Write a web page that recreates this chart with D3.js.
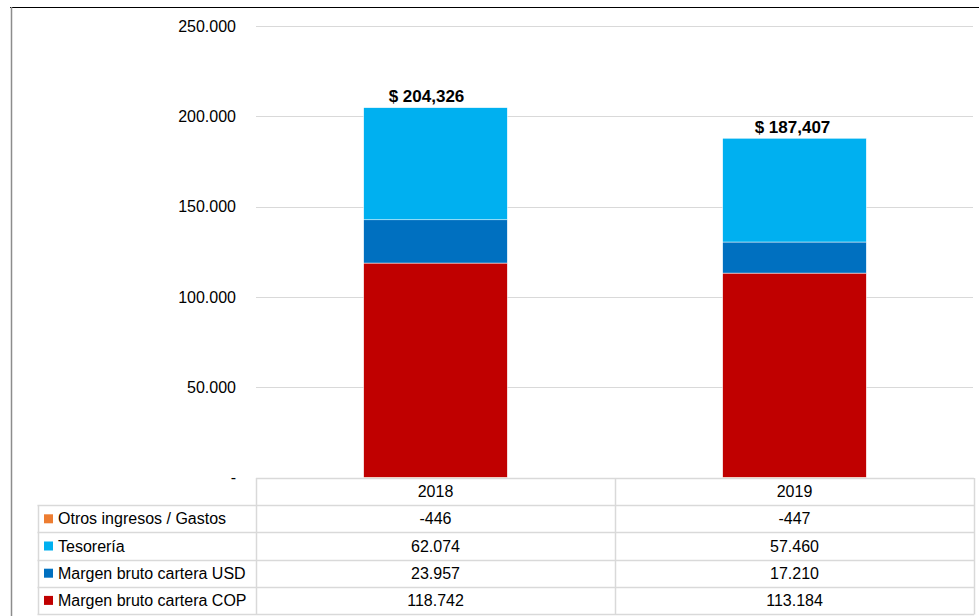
<!DOCTYPE html>
<html>
<head>
<meta charset="utf-8">
<script src="https://cdn.jsdelivr.net/npm/d3@7"></script>
<style>
  body { margin: 0; background: #fff; }
  svg { display: block; font-family: "Liberation Sans", Arial, sans-serif; }
</style>
</head>
<body>
<svg id="chart" width="979" height="616"></svg>
<script>
// data
var years = ["2018", "2019"];
var seriesNames = ["Margen bruto cartera COP", "Margen bruto cartera USD", "Tesorería", "Otros ingresos / Gastos"];
var seriesColors = ["#C00000", "#0070C0", "#00B0F0", "#ED7D31"];
var copValues = [118742, 113184];
var usdValues = [23957, 17210];
var tesoreriaValues = [62074, 57460];
var otrosValues = [-446, -447];
var totalLabels = [204326, 187407];
var yTicks = [0, 50000, 100000, 150000, 200000, 250000];

var seriesValues = [copValues, usdValues, tesoreriaValues, otrosValues];

var svg = d3.select("#chart");

var es = d3.formatLocale({decimal: ",", thousands: ".", grouping: [3], currency: ["$", ""], minus: "-"});
var fmtDot = es.format(",");
var fmtComma = d3.format(",");

// plot area
var plotLeft = 256, plotRight = 974, plotTop = 26, plotBottom = 477.5;
// total labels were nudged by hand in the original
var labelNudge = [-9, -2];

var x = d3.scaleBand()
	.domain(years)
	.range([plotLeft, plotRight])
	.padding(0);

var y = d3.scaleLinear()
	.domain([0, 250000])
	.range([plotBottom, plotTop]);

var barWidth = x.bandwidth() * 0.4;

// outer frame
svg.append("line")
	.attr("x1", 10).attr("x2", 979)
	.attr("y1", 7.5).attr("y2", 7.5)
	.attr("stroke", "#000").attr("stroke-width", 1.2);
svg.append("line")
	.attr("x1", 11.5).attr("x2", 11.5)
	.attr("y1", 7).attr("y2", 616)
	.attr("stroke", "#8c8c8c").attr("stroke-width", 1.5);

// gridlines
svg.append("g")
	.selectAll("line")
	.data(yTicks.filter(function(d) { return d > 0; }))
	.join("line")
		.attr("x1", plotLeft).attr("x2", 973)
		.attr("y1", function(d) { return Math.round(y(d)) + 0.5; })
		.attr("y2", function(d) { return Math.round(y(d)) + 0.5; })
		.attr("stroke", "#d9d9d9")
		.attr("stroke-width", 1);

// y axis labels
var yAxis = d3.axisLeft(y)
	.tickValues(yTicks)
	.tickSize(0)
	.tickPadding(0)
	.tickFormat(function(d) { return d === 0 ? "-" : fmtDot(d); });

svg.append("g")
	.attr("transform", "translate(236,0)")
	.call(yAxis)
	.call(function(g) { g.select(".domain").remove(); })
	.selectAll("text")
		.attr("font-size", 16)
		.attr("font-family", "Liberation Sans, Arial, sans-serif")
		.attr("fill", "#000");

// stacked bars
var stackData = years.map(function(yr, i) {
	var row = {year: yr};
	seriesNames.forEach(function(s, k) { row[s] = seriesValues[k][i]; });
	return row;
});

var stack = d3.stack()
	.keys(seriesNames)
	.offset(d3.stackOffsetDiverging);

var layers = stack(stackData);

svg.append("defs")
	.append("clipPath")
		.attr("id", "plotclip")
	.append("rect")
		.attr("x", plotLeft).attr("y", plotTop)
		.attr("width", plotRight - plotLeft)
		.attr("height", plotBottom - plotTop);

var barsG = svg.append("g").attr("clip-path", "url(#plotclip)");

barsG.selectAll("g")
	.data(layers)
	.join("g")
		.attr("fill", function(d, i) { return seriesColors[i]; })
	.selectAll("rect")
	.data(function(d) { return d; })
	.join("rect")
		.attr("x", function(d) { return x(d.data.year) + (x.bandwidth() - barWidth) / 2; })
		.attr("width", barWidth)
		.attr("y", function(d) { return y(Math.max(d[0], d[1])); })
		.attr("height", function(d) { return Math.abs(y(d[0]) - y(d[1])); })
		.attr("stroke", "#fff")
		.attr("stroke-width", 0.5);

// total labels
var topValues = years.map(function(yr, i) {
	return d3.sum(seriesValues, function(v) { return v[i] > 0 ? v[i] : 0; });
});

svg.append("g")
	.selectAll("text")
	.data(years)
	.join("text")
		.attr("x", function(d, i) { return x(d) + x.bandwidth() / 2 + labelNudge[i]; })
		.attr("y", function(d, i) { return y(topValues[i]) - 5.5; })
		.attr("text-anchor", "middle")
		.attr("font-size", 17)
		.attr("font-weight", "bold")
		.attr("fill", "#000")
		.text(function(d, i) { return "$ " + fmtComma(totalLabels[i]); });

// data table
var tableTop = 478, tableBottom = 614, legendLeft = 37.5;
var rowNames = ["header"].concat(seriesNames.slice().reverse());

var rowY = d3.scaleBand()
	.domain(rowNames)
	.range([tableTop, tableBottom]);

var tableG = svg.append("g");
var border = "#d9d9d9";

// horizontal lines
tableG.selectAll("line.h")
	.data(rowNames.concat(["end"]))
	.join("line")
		.attr("class", "h")
		.attr("x1", function(d, i) { return i === 0 ? plotLeft : legendLeft; })
		.attr("x2", plotRight)
		.attr("y1", function(d, i) { return Math.round(tableTop + i * rowY.step()) + 0.5; })
		.attr("y2", function(d, i) { return Math.round(tableTop + i * rowY.step()) + 0.5; })
		.attr("stroke", border)
		.attr("stroke-width", 1.5);

// vertical lines
var vLines = [
	{x: legendLeft, y1: rowY(seriesNames[3])},
	{x: plotLeft, y1: tableTop},
	{x: x(years[1]), y1: tableTop},
	{x: plotRight, y1: tableTop}
];
tableG.selectAll("line.v")
	.data(vLines)
	.join("line")
		.attr("class", "v")
		.attr("x1", function(d) { return Math.round(d.x) + 0.5; })
		.attr("x2", function(d) { return Math.round(d.x) + 0.5; })
		.attr("y1", function(d) { return d.y1; })
		.attr("y2", tableBottom + 0.5)
		.attr("stroke", border)
		.attr("stroke-width", 1.5);

// header years
tableG.selectAll("text.year")
	.data(years)
	.join("text")
		.attr("class", "year")
		.attr("x", function(d) { return x(d) + x.bandwidth() / 2; })
		.attr("y", rowY("header") + rowY.bandwidth() / 2)
		.attr("dy", "0.35em")
		.attr("text-anchor", "middle")
		.attr("font-size", 16)
		.attr("fill", "#000")
		.text(function(d) { return d; });

// legend rows
var rowsG = tableG.selectAll("g.row")
	.data(seriesNames)
	.join("g")
		.attr("class", "row")
		.attr("transform", function(d) { return "translate(0," + (rowY(d) + rowY.bandwidth() / 2) + ")"; });

rowsG.append("rect")
	.attr("x", 44)
	.attr("y", -4.5)
	.attr("width", 9)
	.attr("height", 9)
	.attr("fill", function(d, i) { return seriesColors[i]; });

rowsG.append("text")
	.attr("x", 58)
	.attr("dy", "0.35em")
	.attr("font-size", 16)
	.attr("fill", "#000")
	.text(function(d) { return d; });

rowsG.selectAll("text.val")
	.data(function(d, k) { return seriesValues[k].map(function(v, i) { return {year: years[i], v: v}; }); })
	.join("text")
		.attr("class", "val")
		.attr("x", function(d) { return x(d.year) + x.bandwidth() / 2; })
		.attr("dy", "0.35em")
		.attr("text-anchor", "middle")
		.attr("font-size", 16)
		.attr("fill", "#000")
		.text(function(d) { return fmtDot(d.v); });
</script>
</body>
</html>
